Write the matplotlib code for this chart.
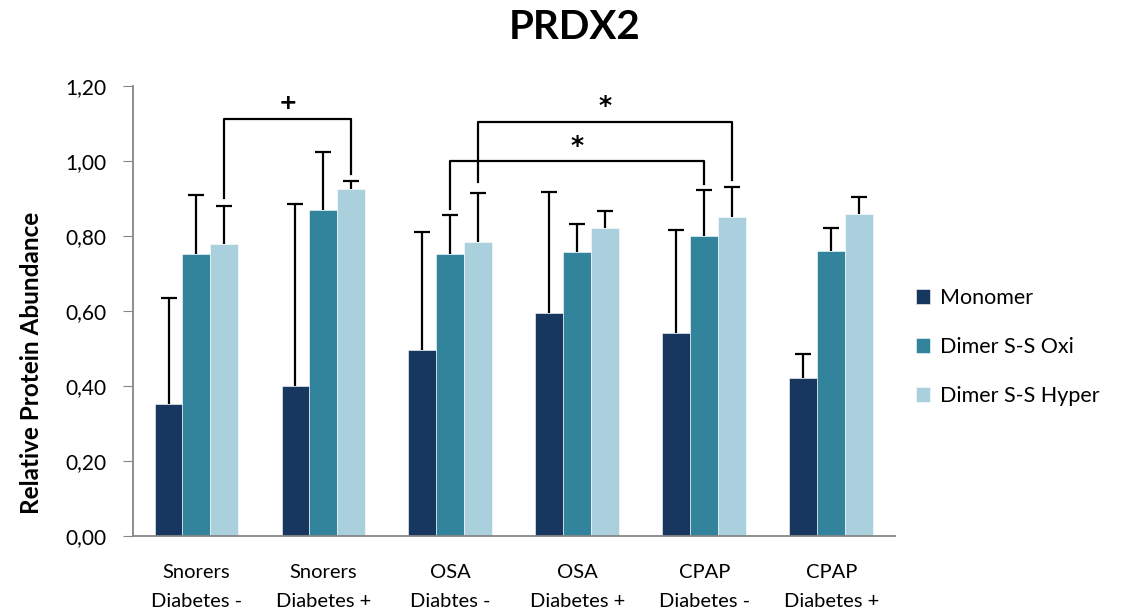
import matplotlib
matplotlib.use('Agg')
import matplotlib.pyplot as plt
import numpy as np

plt.rcParams['font.family'] = ['Lato', 'DejaVu Sans']

# datos
grupos = ["Snorers\nDiabetes -", "Snorers\nDiabetes +", "OSA\nDiabtes -",
          "OSA\nDiabetes +", "CPAP\nDiabetes -", "CPAP\nDiabetes +"]
series = ["Monomer", "Dimer S-S Oxi", "Dimer S-S Hyper"]
monomer = [0.351, 0.399, 0.497, 0.594, 0.540, 0.420]
monomer_err = [0.284, 0.486, 0.314, 0.322, 0.275, 0.065]
oxi = [0.751, 0.869, 0.753, 0.758, 0.801, 0.759]
oxi_err = [0.157, 0.155, 0.103, 0.073, 0.122, 0.061]
hyper = [0.778, 0.925, 0.785, 0.820, 0.850, 0.859]
hyper_err = [0.101, 0.022, 0.130, 0.046, 0.081, 0.045]
colores = ['#17375E', '#31849B', '#AACFDD']

fig = plt.figure(figsize=(11.24, 6.16), dpi=100)
ax = fig.add_axes([0.1183, 0.1299, 0.6777, 0.7305])

x = np.arange(len(grupos))
w = 0.22
datos = [(monomer, monomer_err), (oxi, oxi_err), (hyper, hyper_err)]
for k, (vals, errs) in enumerate(datos):
    pos = x + (k - 1) * w
    vals = np.array(vals)
    top = vals + np.array(errs)
    ax.bar(pos, vals, w, color=colores[k], edgecolor='white', linewidth=0.4,
           label=series[k], zorder=2)
    # solo la barra de error superior
    ax.vlines(pos, vals, top, color='black', lw=1.6, zorder=3)
    ax.scatter(pos, top, marker='_', s=120, color='black', linewidths=1.6, zorder=3)

# corchetes de significancia
def corchete(x1, x2, y1, y2, ytop, txt, ytxt, fs):
    ax.plot([x1, x1, x2, x2], [y1, ytop, ytop, y2], color='black', lw=1.6,
            zorder=4, clip_on=False)
    ax.text((x1 + x2) / 2, ytxt, txt, ha='center', va='center',
            fontsize=fs, fontweight='bold', family=['DejaVu Sans'])

corchete(0 + w, 1 + w, 0.902, 0.965, 1.111, '+', 1.155, 16)
corchete(2, 4, 0.872, 0.939, 1.001, '*', 1.040, 18)
corchete(2 + w, 4 + w, 0.943, 0.949, 1.105, '*', 1.146, 18)

ax.set_xlim(-0.5, 5.5)
ax.set_ylim(0, 1.2)
ticks = np.arange(0, 1.21, 0.2)
ax.set_yticks(ticks)
ax.set_yticklabels([f"{v:.2f}".replace('.', ',') for v in ticks])
ax.set_xticks(x)
ax.set_xticklabels(grupos, linespacing=1.85)
ax.tick_params(axis='y', length=7, color='#868686', labelsize=15, pad=12)
ax.tick_params(axis='x', length=0, labelsize=14.5, pad=20)
for s in ['top', 'right']:
    ax.spines[s].set_visible(False)
for s in ['left', 'bottom']:
    ax.spines[s].set_color('#868686')
    ax.spines[s].set_linewidth(1.3)

ax.set_ylabel("Relative Protein Abundance", fontsize=17.5, fontweight='bold')
ax.yaxis.set_label_coords(-0.118, 0.385)

fig.text(0.5116, 0.955, "PRDX2", ha='center', va='center', fontsize=29, fontweight='bold')

ax.legend(loc='center left', bbox_to_anchor=(1.003, 0.42), frameon=False,
          fontsize=15.5, handlelength=0.65, handleheight=0.65, labelspacing=1.35,
          handletextpad=0.45)

fig.savefig("out.png", dpi=100)
